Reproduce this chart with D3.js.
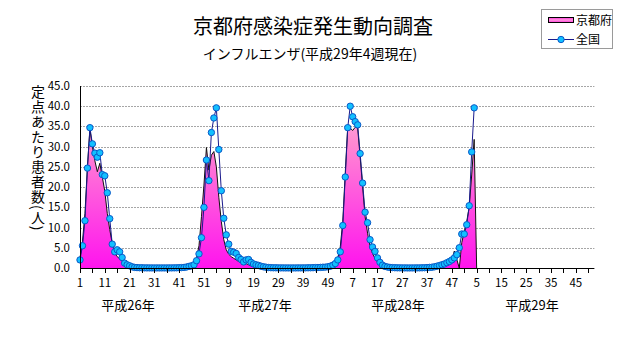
<!DOCTYPE html>
<html>
<head>
<meta charset="utf-8">
<script src="https://cdn.jsdelivr.net/npm/d3@7/dist/d3.min.js"></script>
<style>
html, body { margin: 0; padding: 0; background: #fff; }
svg { display: block; font-family: "Noto Sans CJK JP", "Noto Sans", sans-serif; }
</style>
</head>
<body>
<svg id="paper"></svg>
<script>
// 年ラベルと週数
var years = ["平成26年", "平成27年", "平成28年", "平成29年"];
var weeksPerYear = 52;

// 定点あたり患者数 京都府 (H26第1週〜H29第4週)
var kyoto = [
    2.5, 6.5, 13.5, 25.0, 34.3, 30.0, 26.5, 23.8, 25.9, 22.5,
    19.0, 13.5, 9.5, 6.1, 3.7, 2.8, 2.3, 1.6, 1.0, 0.6,
    0.4, 0.3, 0.2, 0.1, 0.1, 0.05, 0.05, 0.03, 0.02, 0.02,
    0.02, 0.02, 0.01, 0.01, 0.01, 0.02, 0.02, 0.03, 0.04, 0.05,
    0.06, 0.08, 0.1, 0.15, 0.2, 0.4, 1.0, 2.5, 5.5, 12.7,
    20.5, 29.8, 24.2, 27.9, 28.8, 25.0, 17.5, 11.5, 7.0, 4.5,
    3.4, 2.8, 2.4, 2.0, 1.6, 1.3, 1.2, 1.1, 0.8, 0.5,
    0.3, 0.2, 0.1, 0.08, 0.05, 0.04, 0.03, 0.02, 0.02, 0.01,
    0.01, 0.01, 0.01, 0.01, 0.01, 0.01, 0.02, 0.02, 0.02, 0.02,
    0.03, 0.03, 0.04, 0.05, 0.06, 0.08, 0.1, 0.12, 0.15, 0.2,
    0.25, 0.3, 0.5, 1.0, 2.5, 5.3, 11.5, 23.5, 35.0, 34.6,
    34.0, 34.8, 34.6, 27.5, 20.1, 12.7, 8.6, 5.3, 3.6, 2.4,
    1.5, 0.9, 0.5, 0.3, 0.2, 0.1, 0.07, 0.05, 0.03, 0.02,
    0.02, 0.01, 0.01, 0.01, 0.01, 0.02, 0.02, 0.03, 0.05, 0.07,
    0.08, 0.1, 0.12, 0.15, 0.2, 0.25, 0.35, 0.5, 0.7, 1.0,
    2.0, 4.2, 2.1, 0, 6.3, 9.0, 11.5, 15.0, 23.0, 31.8
];

// 定点あたり患者数 全国
var national = [
    2.0, 5.5, 11.7, 24.7, 34.7, 30.7, 28.4, 27.4, 28.5, 23.1,
    22.8, 18.6, 12.2, 5.9, 4.0, 4.5, 4.0, 2.6, 1.2, 0.8,
    0.55, 0.3, 0.15, 0.1, 0.07, 0.05, 0.04, 0.03, 0.03, 0.02,
    0.02, 0.02, 0.02, 0.02, 0.02, 0.02, 0.03, 0.03, 0.04, 0.05,
    0.07, 0.1, 0.15, 0.25, 0.4, 0.55, 0.8, 1.8, 3.5, 7.5,
    15.0, 26.7, 21.6, 33.5, 37.1, 39.6, 29.3, 19.1, 12.3, 8.2,
    5.9, 4.1, 3.9, 3.6, 2.6, 2.1, 1.5, 2.0, 2.1, 1.4,
    1.0, 0.8, 0.65, 0.45, 0.3, 0.2, 0.12, 0.08, 0.06, 0.05,
    0.04, 0.03, 0.03, 0.02, 0.02, 0.02, 0.02, 0.02, 0.03, 0.03,
    0.03, 0.04, 0.05, 0.06, 0.08, 0.1, 0.12, 0.15, 0.2, 0.22,
    0.3, 0.45, 0.7, 1.1, 2.0, 4.0, 10.5, 22.5, 34.7, 40.0,
    37.4, 36.2, 35.4, 28.3, 21.0, 13.8, 11.2, 7.0, 5.2, 4.1,
    2.5, 1.4, 0.7, 0.4, 0.25, 0.15, 0.1, 0.07, 0.05, 0.04,
    0.03, 0.03, 0.02, 0.02, 0.02, 0.03, 0.03, 0.04, 0.05, 0.07,
    0.1, 0.15, 0.2, 0.3, 0.45, 0.6, 0.8, 1.0, 1.3, 1.6,
    2.0, 2.5, 3.3, 5.0, 8.4, 8.4, 10.7, 15.4, 28.7, 39.6
];

var yTicks = [0, 5, 10, 15, 20, 25, 30, 35, 40, 45];
var seriesNames = ["京都府", "全国"];
var title = "京都府感染症発生動向調査";
var subtitle = "インフルエンザ(平成29年4週現在)";
var yLabel = "定点あたり患者数(人)";

(function () {
    // 週のカテゴリ (1..52 を年ごとに)
    var categories = [];
    years.forEach(function (yr) {
        for (var w = 1; w <= weeksPerYear; w++) categories.push(w);
    });

    var width = 631, height = 347;
    var pLeft = 80, pRight = 594.4, pTop = 86, pBottom = 268;
    var yearLabelX = [128, 265, 398, 532];

    var svg = d3.select('#paper')
        .attr('width', width)
        .attr('height', height);

    var x = d3.scaleLinear()
        .domain([0, categories.length - 0.5])
        .range([pLeft, pRight]);

    var y = d3.scaleLinear()
        .domain([0, 45])
        .range([pBottom, pTop]);

    var defs = svg.append("defs");
    var grad = defs.append("linearGradient")
        .attr("id", "pink")
        .attr("gradientUnits", "userSpaceOnUse")
        .attr("x1", 0).attr("y1", y(45))
        .attr("x2", 0).attr("y2", y(0));
    grad.append("stop").attr("offset", "0%").attr("stop-color", "#ffc4e6");
    grad.append("stop").attr("offset", "30%").attr("stop-color", "#ff8ad2");
    grad.append("stop").attr("offset", "100%").attr("stop-color", "#ff14ee");

    var lgrad = defs.append("linearGradient")
        .attr("id", "pinkLegend")
        .attr("x1", 0).attr("y1", 0).attr("x2", 0).attr("y2", 1);
    lgrad.append("stop").attr("offset", "0%").attr("stop-color", "#ff33dd");
    lgrad.append("stop").attr("offset", "50%").attr("stop-color", "#ff99dd");
    lgrad.append("stop").attr("offset", "100%").attr("stop-color", "#ff33dd");

    // 目盛線
    svg.append("g")
        .selectAll("line")
        .data(yTicks.filter(function (d) { return d > 0; }))
        .enter().append("line")
        .attr("x1", pLeft).attr("x2", pRight)
        .attr("y1", function (d) { return Math.round(y(d)) + 0.5; })
        .attr("y2", function (d) { return Math.round(y(d)) + 0.5; })
        .attr("stroke", "#a6a6a6")
        .attr("stroke-dasharray", "2,1");

    // 京都府 (面)
    var kyotoPts = kyoto.map(function (v, i) { return [i, v]; });
    kyotoPts.push([kyoto.length, 0]);

    svg.append("path")
        .datum(kyotoPts)
        .attr("fill", "url(#pink)")
        .attr("d", d3.area()
            .x(function (d) { return x(d[0]); })
            .y0(y(0))
            .y1(function (d) { return y(d[1]); }));

    svg.append("path")
        .datum(kyotoPts)
        .attr("fill", "none")
        .attr("stroke", "#111")
        .attr("stroke-width", 1)
        .attr("d", d3.line()
            .x(function (d) { return x(d[0]); })
            .y(function (d) { return y(d[1]); }));

    // 全国 (折れ線)
    svg.append("path")
        .datum(national)
        .attr("fill", "none")
        .attr("stroke", "#1a1a8c")
        .attr("stroke-width", 1)
        .attr("d", d3.line()
            .x(function (d, i) { return x(i); })
            .y(function (d) { return y(d); }));

    svg.append("g")
        .selectAll("circle")
        .data(national)
        .enter().append("circle")
        .attr("cx", function (d, i) { return x(i); })
        .attr("cy", function (d) { return y(d); })
        .attr("r", 3.2)
        .attr("fill", "#12c0ff")
        .attr("stroke", "#0a58c8")
        .attr("stroke-width", 1);

    // 軸
    var xTickIdx = d3.range(0, categories.length, 5);
    svg.append("g")
        .selectAll("line")
        .data(xTickIdx)
        .enter().append("line")
        .attr("x1", function (d) { return Math.round(x(d)) + 0.5; })
        .attr("x2", function (d) { return Math.round(x(d)) + 0.5; })
        .attr("y1", pBottom).attr("y2", pBottom + 5)
        .attr("stroke", "#000");

    svg.append("line")
        .attr("x1", pLeft).attr("x2", pRight)
        .attr("y1", pBottom + 0.5).attr("y2", pBottom + 0.5)
        .attr("stroke", "#000");
    svg.append("line")
        .attr("x1", pLeft + 0.5).attr("x2", pLeft + 0.5)
        .attr("y1", pTop).attr("y2", pBottom)
        .attr("stroke", "#000");

    svg.append("g")
        .selectAll("text")
        .data(xTickIdx.filter(function (d) { return d % 10 === 0 && d <= 200; }))
        .enter().append("text")
        .attr("x", function (d) { return x(d); })
        .attr("y", 287)
        .attr("text-anchor", "middle")
        .attr("font-size", 11.5)
        .text(function (d) { return categories[d]; });

    svg.append("g")
        .selectAll("text")
        .data(yTicks)
        .enter().append("text")
        .attr("x", 70)
        .attr("y", function (d) { return y(d) + 4; })
        .attr("text-anchor", "end")
        .attr("font-size", 11.5)
        .text(function (d) { return d.toFixed(1); });

    svg.append("g")
        .selectAll("text")
        .data(years)
        .enter().append("text")
        .attr("x", function (d, i) { return yearLabelX[i]; })
        .attr("y", 310)
        .attr("text-anchor", "middle")
        .attr("font-size", 13)
        .text(function (d) { return d; });

    // 縦書きラベル
    svg.append("text")
        .attr("x", 38).attr("y", 85)
        .attr("font-size", 14)
        .attr("letter-spacing", 1)
        .style("writing-mode", "vertical-rl")
        .style("text-orientation", "mixed")
        .text(yLabel);

    // タイトル
    svg.append("text")
        .attr("x", 313).attr("y", 34)
        .attr("text-anchor", "middle")
        .attr("font-size", 20)
        .text(title);
    svg.append("text")
        .attr("x", 310).attr("y", 59)
        .attr("text-anchor", "middle")
        .attr("font-size", 14)
        .text(subtitle);

    // 凡例
    var lg = svg.append("g");
    lg.append("rect")
        .attr("x", 541.5).attr("y", 9.5)
        .attr("width", 71).attr("height", 39)
        .attr("fill", "#fff")
        .attr("stroke", "#9a9a9a");
    lg.append("rect")
        .attr("x", 548.5).attr("y", 17.5)
        .attr("width", 25).attr("height", 5)
        .attr("fill", "url(#pinkLegend)")
        .attr("stroke", "#000");
    lg.append("line")
        .attr("x1", 548).attr("x2", 574)
        .attr("y1", 39.5).attr("y2", 39.5)
        .attr("stroke", "#1a1a8c");
    lg.append("circle")
        .attr("cx", 561).attr("cy", 39.5).attr("r", 3.2)
        .attr("fill", "#12c0ff")
        .attr("stroke", "#0a58c8");
    lg.selectAll("text.lg")
        .data(seriesNames)
        .enter().append("text")
        .attr("class", "lg")
        .attr("x", 576)
        .attr("y", function (d, i) { return i === 0 ? 25 : 44; })
        .attr("font-size", 12)
        .text(function (d) { return d; });
})();
</script>
</body>
</html>
